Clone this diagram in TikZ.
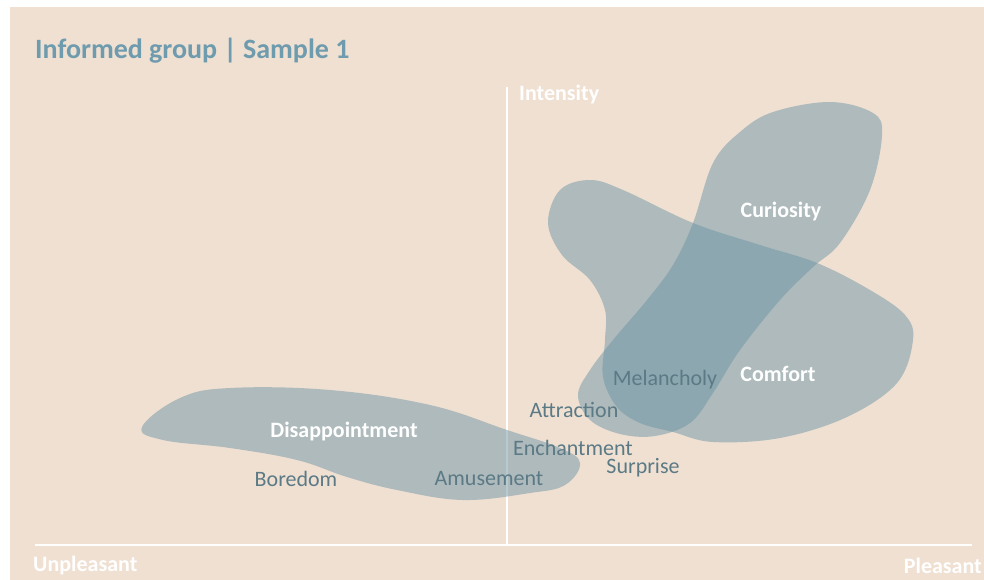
\documentclass[tikz,border=0pt]{standalone}
\usepackage{fontspec}
\setmainfont{Carlito}
\usepackage{tikz}
\usepackage{xcolor}
\definecolor{paper}{HTML}{F0E0D2}
\definecolor{blobcol}{HTML}{6E96A6}
\definecolor{titlecol}{HTML}{6E9BAD}
\definecolor{labelcol}{HTML}{5B7A86}
\tikzstyle{blob} = [fill=blobcol, fill opacity=0.5, draw=none]
\tikzstyle{axis} = [draw=white, line width=2pt]
\tikzstyle{darklabel} = [text=labelcol, font=\fontsize{22}{24}\selectfont, inner sep=0pt]
\tikzstyle{whitelabel} = [text=white, font=\bfseries\fontsize{22}{24}\selectfont, inner sep=0pt]

\begin{document}
\begin{tikzpicture}[x=1pt, y=-1pt]
\useasboundingbox (0,0) rectangle (984,580);
\fill[paper] (10,7) rectangle (984,580);

% title
\node[anchor=base west, text=titlecol, font=\bfseries\fontsize{28}{30}\selectfont, inner sep=0pt]
    (title) at (35,59) {Informed group | Sample 1};

% axes
\coordinate (origin) at (507,545);
\coordinate (top) at (507,87);
\coordinate (left) at (35,545);
\coordinate (right) at (972,545);
\draw[axis] (top) -- (origin);
\draw[axis] (left) -- (right);
\node[whitelabel, anchor=west] (intensity) at (519,95) {Intensity};
\node[whitelabel, anchor=west] (unpleasant) at (33,566) {Unpleasant};
\node[whitelabel, anchor=east] (pleasant) at (982,566) {Pleasant};

% blobs
\fill[blob] plot[smooth cycle, tension=0.65] coordinates {
    (142,427) (180,398) (230,388) (330,390) (430,405) (507,430)
    (560,448) (580,463) (565,485) (530,493) (463,500) (397,490)
    (347,477) (297,460) (230,448) (163,440)};
\fill[blob] plot[smooth cycle, tension=0.6] coordinates {
    (548,223) (560,190) (590,180) (623,190) (693,223) (760,245)
    (817,263) (870,290) (905,315) (913,340) (897,383) (847,417)
    (780,438) (713,442) (673,432) (640,423) (617,407) (603,377)
    (605,340) (605,310) (590,280) (562,255)};
\fill[blob] plot[smooth cycle, tension=0.6] coordinates {
    (830,102) (873,113) (882,135) (870,190) (840,243) (813,267)
    (780,300) (740,350) (713,393) (690,423) (655,436) (620,434)
    (590,420) (578,395) (590,370) (613,340) (647,300) (673,265)
    (693,223) (713,163) (740,132) (773,112)};

% labels
\node[whitelabel] (curiosity) at (781,212) {Curiosity};
\node[whitelabel] (comfort) at (778,374) {Comfort};
\node[darklabel] (melancholy) at (665,380) {Melancholy};
\node[darklabel] (attraction) at (574,410) {Attraction};
\node[darklabel] (enchantment) at (573,448) {Enchantment};
\node[darklabel] (surprise) at (643,468) {Surprise};
\node[whitelabel] (disappointment) at (344,432) {Disappointment};
\node[darklabel] (boredom) at (296,479) {Boredom};
\node[darklabel] (amusement) at (489,479) {Amusement};
\end{tikzpicture}
\end{document}
